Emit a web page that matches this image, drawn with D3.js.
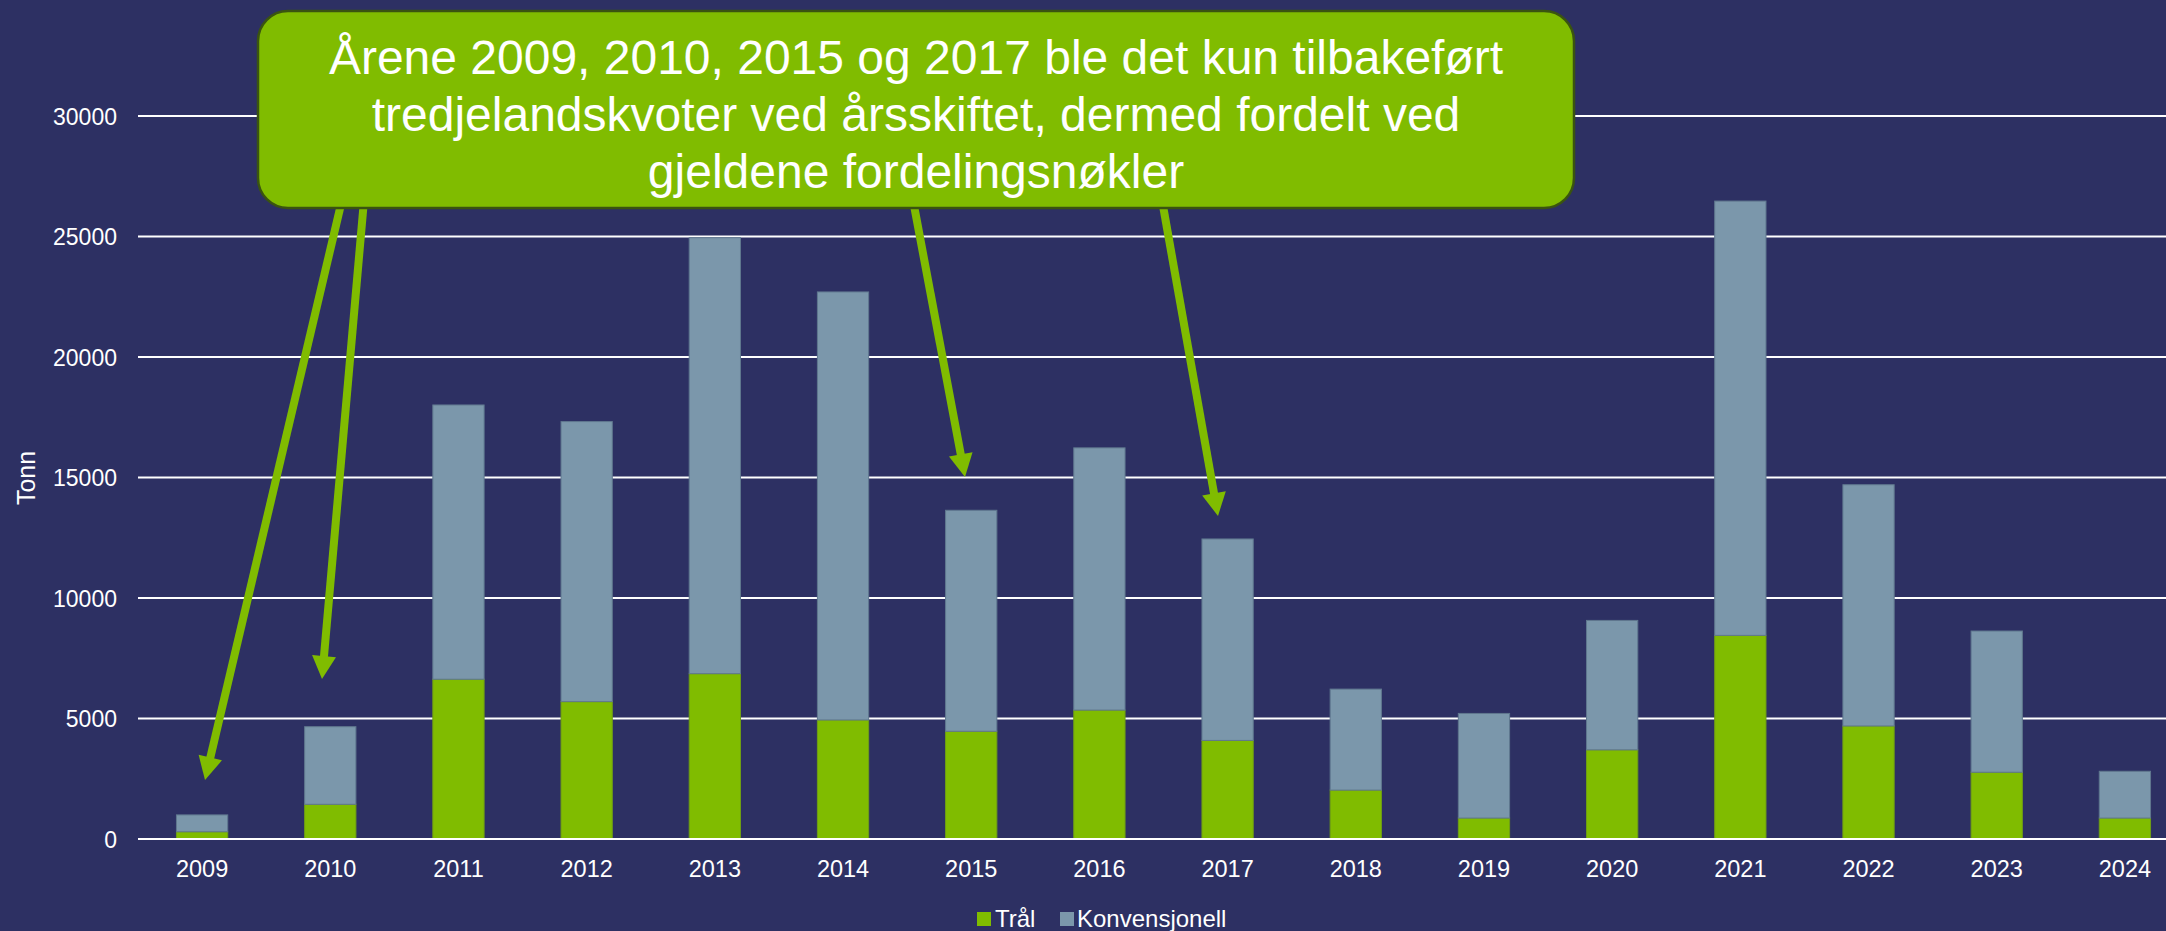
<!DOCTYPE html>
<html>
<head>
<meta charset="utf-8">
<script src="https://cdn.jsdelivr.net/npm/d3@7"></script>
<style>
  html, body { margin: 0; padding: 0; background: #2d3063; }
  svg { display: block; }
</style>
</head>
<body>
<svg id="chart" width="2166" height="931"></svg>
<script>
const years = ["2009","2010","2011","2012","2013","2014","2015","2016","2017","2018","2019","2020","2021","2022","2023","2024"];
const tral = [300, 1440, 6630, 5700, 6860, 4940, 4470, 5350, 4090, 2030, 870, 3700, 8450, 4690, 2770, 870];
const konvensjonell = [700, 3220, 11380, 11620, 18090, 17760, 9170, 10880, 8360, 4190, 4340, 5370, 18020, 10010, 5860, 1940];
const yTicks = [0, 5000, 10000, 15000, 20000, 25000, 30000];
const seriesNames = ["Trål", "Konvensjonell"];
const calloutLines = [
  "Årene 2009, 2010, 2015 og 2017 ble det kun tilbakeført",
  "tredjelandskvoter ved årsskiftet, dermed fordelt ved",
  "gjeldene fordelingsnøkler"
];
const arrowTargets = ["2009", "2010", "2015", "2017"];

const colors = { "Trål": "#80bc00", "Konvensjonell": "#7b97ab" };
const strokes = { "Trål": "#6f9f14", "Konvensjonell": "#60788f" };
const font = "Liberation Sans, Arial, sans-serif";

const svg = d3.select("#chart");
const W = 2166, H = 931;
svg.append("rect").attr("width", W).attr("height", H).attr("fill", "#2d3063");

const x = d3.scaleBand().domain(years).range([138, 2189]).paddingInner(0.6).paddingOuter(0.3);
const y = d3.scaleLinear().domain([0, 30000]).range([839, 116]);

// gridlines
svg.append("g").selectAll("line").data(yTicks).join("line")
  .attr("x1", 138).attr("x2", W)
  .attr("y1", d => y(d)).attr("y2", d => y(d))
  .attr("stroke", "#ffffff").attr("stroke-width", 2);

// y labels
const yAxis = d3.axisLeft(y).tickValues(yTicks).tickSize(0).tickPadding(0).tickFormat(d3.format("d"));
const gy = svg.append("g").attr("transform", "translate(117,0)").call(yAxis);
gy.select(".domain").remove();
gy.selectAll("text").attr("fill", "#ffffff").attr("font-family", font).attr("font-size", 23).attr("dy", "0.35em");

// x labels
const xAxis = d3.axisBottom(x).tickSize(0).tickPadding(0);
const gx = svg.append("g").attr("transform", "translate(0,860)").call(xAxis);
gx.select(".domain").remove();
gx.selectAll("text").attr("fill", "#ffffff").attr("font-family", font).attr("font-size", 23.5).attr("dy", "0.72em");

// stacked data
const rows = years.map((yr, i) => ({ year: yr, "Trål": tral[i], "Konvensjonell": konvensjonell[i] }));
const stack = d3.stack().keys(seriesNames)(rows);

svg.append("g").selectAll("g").data(stack).join("g")
  .attr("fill", d => colors[d.key]).attr("stroke", d => strokes[d.key]).attr("stroke-width", 1)
  .selectAll("rect").data(d => d).join("rect")
  .attr("x", d => x(d.data.year))
  .attr("width", x.bandwidth())
  .attr("y", d => y(d[1]))
  .attr("height", d => y(d[0]) - y(d[1]));

// baseline on top
svg.append("line").attr("x1", 138).attr("x2", W).attr("y1", y(0)).attr("y2", y(0))
  .attr("stroke", "#ffffff").attr("stroke-width", 2);

// legend
const legend = svg.append("g").attr("font-family", font).attr("font-size", 24).attr("fill", "#ffffff");
const legendPos = [{ sx: 977, tx: 995 }, { sx: 1060, tx: 1077 }];
seriesNames.forEach((s, i) => {
  legend.append("rect").attr("x", legendPos[i].sx).attr("y", 912).attr("width", 14).attr("height", 14).attr("fill", colors[s]);
  legend.append("text").attr("x", legendPos[i].tx).attr("y", 927).text(s);
});

// arrows (start points on callout bottom, tips near bars)
const arrowStarts = [[342, 200], [364, 200], [913, 200], [1162, 200]];
const arrowTips = [[205, 780], [322, 679], [965, 477], [1218, 516]];
const arrowG = svg.append("g");
arrowTargets.forEach((yr, i) => {
  const tip = arrowTips[i];
  const s = arrowStarts[i];
  const dx = tip[0] - s[0], dy = tip[1] - s[1];
  const len = Math.hypot(dx, dy);
  const ux = dx / len, uy = dy / len;
  const headLen = 23, headHalf = 12;
  const bx = tip[0] - ux * headLen, by = tip[1] - uy * headLen;
  arrowG.append("line").attr("x1", s[0]).attr("y1", s[1]).attr("x2", bx + ux * 2).attr("y2", by + uy * 2)
    .attr("stroke", "#80bc00").attr("stroke-width", 8);
  arrowG.append("path")
    .attr("d", `M${tip[0]},${tip[1]} L${bx - uy * headHalf},${by + ux * headHalf} L${bx + uy * headHalf},${by - ux * headHalf} Z`)
    .attr("fill", "#80bc00");
});

// callout box
svg.append("rect").attr("x", 258).attr("y", 11).attr("width", 1316).attr("height", 197)
  .attr("rx", 30).attr("ry", 30)
  .attr("fill", "#80bc00").attr("stroke", "#3a5410").attr("stroke-width", 2.5);
const ct = svg.append("g").attr("font-family", font).attr("font-size", 48).attr("fill", "#ffffff").attr("text-anchor", "middle");
const baselines = [74, 131, 188];
calloutLines.forEach((t, i) => {
  ct.append("text").attr("x", 916).attr("y", baselines[i]).text(t);
});

// y axis title
svg.append("text").attr("transform", "translate(35,478) rotate(-90)")
  .attr("text-anchor", "middle").attr("font-family", font).attr("font-size", 25).attr("fill", "#ffffff")
  .text("Tonn");
</script>
</body>
</html>
